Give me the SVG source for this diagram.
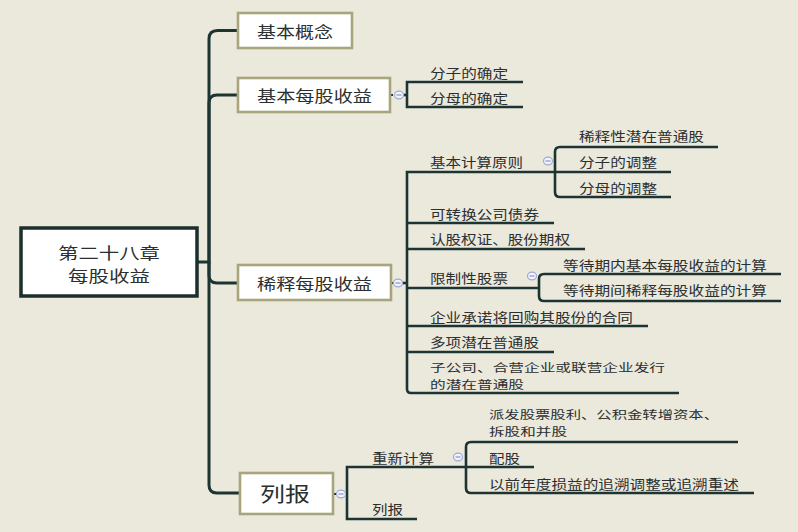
<svg xmlns="http://www.w3.org/2000/svg" width="798" height="532" viewBox="0 0 798 532">
<style>
.bg{fill:#ebe8dc}
.ln{fill:none;stroke:#1d3532;stroke-width:2.6;stroke-linecap:butt}
.main{fill:none;stroke:#1d3532;stroke-width:3}
.box{fill:#ffffff;stroke:#a8a47c;stroke-width:2.6}
.root{fill:#ffffff;stroke:#1b2f2c;stroke-width:3.5}
.t{font-family:"Noto Sans CJK SC","Noto Sans",sans-serif;fill:#2b2f2f;dominant-baseline:central}
.c{font-size:13px}
.c2{font-size:11.6px}
.b{font-size:15.5px}
.mk{fill:#f2f3fb;stroke:#9ea9d8;stroke-width:1.2}
.mm{stroke:#8d96b8;stroke-width:1.2}
.dot{stroke:#1d3532;stroke-width:2;stroke-dasharray:2 2}
</style>
<rect class="bg" x="0" y="0" width="798" height="532"/>

<g id="connectors">
  <path class="main" d="M198,262 H209 V39 Q209,30.5 217.5,30.5 H238"/>
  <path class="main" d="M209,262 V103 Q209,95 217,95 H238"/>
  <path class="main" d="M209,262 V275 Q209,283 217,283 H238"/>
  <path class="main" d="M209,262 V485 Q209,493 217,493 H240"/>
  <line class="dot" x1="391" y1="95" x2="395" y2="95"/>
  <line class="ln" x1="403" y1="95" x2="407" y2="95"/>
  <path class="ln" d="M523,82 H407 V107 H523"/>
  <line class="dot" x1="392" y1="283" x2="394" y2="283"/>
  <line class="ln" x1="402" y1="283" x2="407" y2="283"/>
  <path class="ln" d="M671,172 H407 V389 Q407,393 411,393 H679"/>
  <line class="ln" x1="407" y1="223" x2="554" y2="223"/>
  <line class="ln" x1="407" y1="249" x2="585" y2="249"/>
  <line class="ln" x1="407" y1="288" x2="539" y2="288"/>
  <line class="ln" x1="407" y1="326" x2="648" y2="326"/>
  <line class="ln" x1="407" y1="352" x2="554" y2="352"/>
  <path class="ln" d="M718,147 H560 Q555,147 555,152 V192 Q555,197 560,197 H671"/>
  <path class="ln" d="M781,274 H544 Q539,274 539,279 V296 Q539,301 544,301 H781"/>
  <line class="dot" x1="334" y1="494" x2="336" y2="494"/>
  <path class="ln" d="M534,467 H347 V519 H417"/>
  <path class="ln" d="M738,442 H471 Q466,442 466,447 V488 Q466,493 471,493 H754"/>
</g>

<g id="root">
  <rect class="root" x="21" y="228" width="176" height="68"/>
  <text class="t" font-size="15.8" text-anchor="middle"><tspan x="109" y="251.5" textLength="102" lengthAdjust="spacingAndGlyphs">第二十八章</tspan><tspan x="109" y="274.5" textLength="82" lengthAdjust="spacingAndGlyphs">每股收益</tspan></text>
</g>

<g id="n-jibengainian">
  <rect class="box" x="238" y="13" width="114" height="35"/>
  <text class="t b" x="257" y="30.5" textLength="76" lengthAdjust="spacingAndGlyphs">基本概念</text>
</g>

<g id="n-jiben">
  <rect class="box" x="238" y="78" width="152" height="34"/>
  <text class="t b" x="257" y="95" textLength="115" lengthAdjust="spacingAndGlyphs">基本每股收益</text>
  <ellipse class="mk" cx="399" cy="95" rx="4.5" ry="3.8"/>
  <line class="mm" x1="396.5" y1="95" x2="401.5" y2="95"/>
</g>
<g id="n-fenzi1"><text class="t c" x="430" y="72" textLength="78" lengthAdjust="spacingAndGlyphs">分子的确定</text></g>
<g id="n-fenmu1"><text class="t c" x="430" y="97" textLength="78" lengthAdjust="spacingAndGlyphs">分母的确定</text></g>

<g id="n-xishi">
  <rect class="box" x="238" y="265" width="153" height="35"/>
  <text class="t b" x="257" y="283" textLength="115" lengthAdjust="spacingAndGlyphs">稀释每股收益</text>
  <ellipse class="mk" cx="398" cy="283" rx="4.5" ry="3.8"/>
  <line class="mm" x1="395.5" y1="283" x2="400.5" y2="283"/>
</g>
<g id="n-yuanze">
  <text class="t c" x="430" y="161" textLength="93" lengthAdjust="spacingAndGlyphs">基本计算原则</text>
  <ellipse class="mk" cx="548" cy="161" rx="4.5" ry="3.8"/>
  <line class="mm" x1="545.5" y1="161" x2="550.5" y2="161"/>
</g>
<g id="n-xishixing"><text class="t c" x="579" y="135" textLength="125" lengthAdjust="spacingAndGlyphs">稀释性潜在普通股</text></g>
<g id="n-fenzi2"><text class="t c" x="579" y="161" textLength="78" lengthAdjust="spacingAndGlyphs">分子的调整</text></g>
<g id="n-fenmu2"><text class="t c" x="579" y="187" textLength="78" lengthAdjust="spacingAndGlyphs">分母的调整</text></g>
<g id="n-zhaiquan"><text class="t c" x="430" y="213" textLength="109" lengthAdjust="spacingAndGlyphs">可转换公司债券</text></g>
<g id="n-quanzheng"><text class="t c" x="430" y="238" textLength="140" lengthAdjust="spacingAndGlyphs">认股权证、股份期权</text></g>
<g id="n-xianzhi">
  <text class="t c" x="430" y="277" textLength="78" lengthAdjust="spacingAndGlyphs">限制性股票</text>
  <ellipse class="mk" cx="532" cy="276" rx="4.5" ry="3.8"/>
  <line class="mm" x1="529.5" y1="276" x2="534.5" y2="276"/>
</g>
<g id="n-dengdai1"><text class="t c" x="563" y="264" textLength="204" lengthAdjust="spacingAndGlyphs">等待期内基本每股收益的计算</text></g>
<g id="n-dengdai2"><text class="t c" x="563" y="289" textLength="204" lengthAdjust="spacingAndGlyphs">等待期间稀释每股收益的计算</text></g>
<g id="n-huigou"><text class="t c" x="430" y="316" textLength="203" lengthAdjust="spacingAndGlyphs">企业承诺将回购其股份的合同</text></g>
<g id="n-duoxiang"><text class="t c" x="430" y="341" textLength="109" lengthAdjust="spacingAndGlyphs">多项潜在普通股</text></g>
<g id="n-zigongsi">
  <text class="t c2"><tspan x="430" y="366.5" textLength="235" lengthAdjust="spacingAndGlyphs">子公司、合营企业或联营企业发行</tspan><tspan x="430" y="383.5" textLength="94" lengthAdjust="spacingAndGlyphs">的潜在普通股</tspan></text>
</g>

<g id="n-liebao">
  <rect class="box" x="240" y="473" width="93" height="41"/>
  <text class="t" x="260" y="493.5" font-size="20" textLength="50" lengthAdjust="spacingAndGlyphs">列报</text>
  <ellipse class="mk" cx="341" cy="494" rx="4.5" ry="3.8"/>
  <line class="mm" x1="338.5" y1="494" x2="343.5" y2="494"/>
</g>
<g id="n-chongxin">
  <text class="t c" x="372" y="457" textLength="62" lengthAdjust="spacingAndGlyphs">重新计算</text>
  <ellipse class="mk" cx="458" cy="457" rx="4.5" ry="3.8"/>
  <line class="mm" x1="455.5" y1="457" x2="460.5" y2="457"/>
</g>
<g id="n-paifa">
  <text class="t c2"><tspan x="489" y="413.5" textLength="230" lengthAdjust="spacingAndGlyphs">派发股票股利、公积金转增资本、</tspan><tspan x="489" y="430.5" textLength="78" lengthAdjust="spacingAndGlyphs">拆股和并股</tspan></text>
</g>
<g id="n-peigu"><text class="t c" x="489" y="457" textLength="31" lengthAdjust="spacingAndGlyphs">配股</text></g>
<g id="n-zhuisu"><text class="t c" x="489" y="483" textLength="250" lengthAdjust="spacingAndGlyphs">以前年度损益的追溯调整或追溯重述</text></g>
<g id="n-liebao2"><text class="t c" x="372" y="508" textLength="31" lengthAdjust="spacingAndGlyphs">列报</text></g>
</svg>
